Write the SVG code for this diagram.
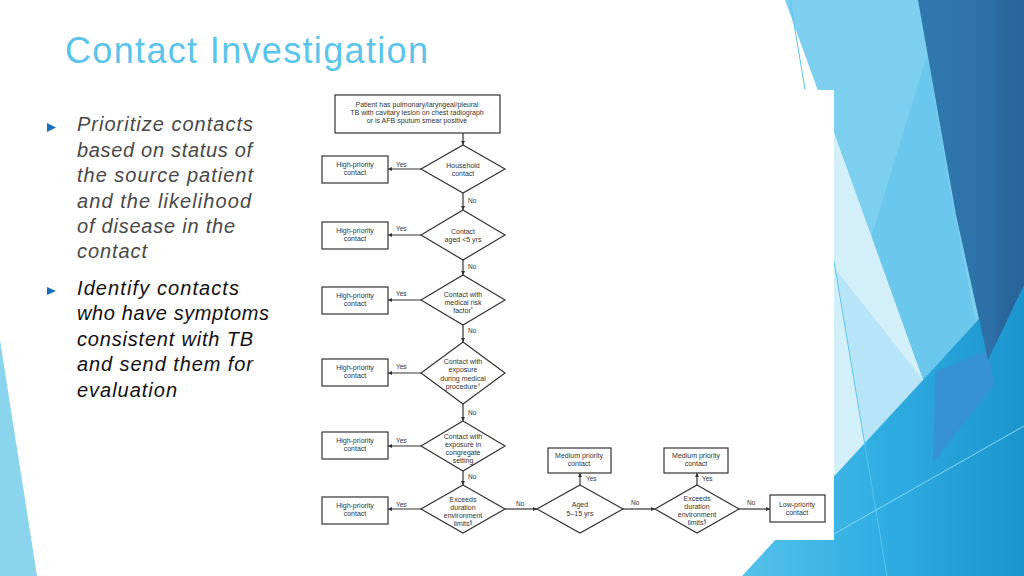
<svg xmlns="http://www.w3.org/2000/svg" width="1024" height="576" viewBox="0 0 1024 576">
<defs>
<linearGradient id="gC" x1="742" y1="0" x2="1024" y2="0" gradientUnits="userSpaceOnUse">
<stop offset="0" stop-color="#55c2ea"/><stop offset="0.5" stop-color="#2fade2"/><stop offset="1" stop-color="#1c95cd"/>
</linearGradient>
<linearGradient id="gD" x1="918" y1="0" x2="1024" y2="0" gradientUnits="userSpaceOnUse">
<stop offset="0" stop-color="#3079ae"/><stop offset="0.7" stop-color="#2d70a8"/><stop offset="0.8" stop-color="#2a659c"/><stop offset="1" stop-color="#28639a"/>
</linearGradient>
<marker id="ah" viewBox="0 0 6 6" refX="6" refY="3" markerWidth="4" markerHeight="4" orient="auto" markerUnits="userSpaceOnUse">
<path d="M0,0 L6,3 L0,6 z" fill="#333"/>
</marker>
<style>
.ft{font-family:"Liberation Sans",Arial,sans-serif;font-size:7px;fill:#333;text-anchor:middle}
.lb{font-family:"Liberation Sans",Arial,sans-serif;font-size:6.5px;fill:#333}
.bx{fill:#fff;stroke:#333;stroke-width:1.2}
.dm{fill:#fff;stroke:#333;stroke-width:1.2}
.cn{stroke:#333;stroke-width:1.2;fill:none;marker-end:url(#ah)}
.bl{font-family:"Liberation Sans",Arial,sans-serif;font-style:italic;font-size:20px}
</style>
</defs>
<rect width="1024" height="576" fill="#fff"/>
<!-- background decoration -->
<g id="decor">
<polygon points="0,340 37,576 0,576" fill="#8ad4ee"/>
<polygon points="785,0 1024,0 1024,300 923,380" fill="#7ccfee"/>
<polygon points="927,55 952,200 980,345 923,380 871,238" fill="#6bc8ec"/>
<polygon points="826,110 923,380 834,477 800,477 800,200" fill="#d3eff9"/>
<polygon points="836,270 923,380 865,443" fill="#b7e4f6"/>
<polygon points="742,576 923,380 1024,270 1024,576" fill="url(#gC)"/>
<polygon points="935,372 988,350 994,385 933,463" fill="#3792d4"/>
<polygon points="918,0 1024,0 1024,285 988,360 956,215" fill="url(#gD)"/>
<line x1="790" y1="0" x2="887" y2="576" stroke="#5bc4ea" stroke-width="1"/>
<line x1="834" y1="534" x2="1024" y2="426" stroke="#8ad6f0" stroke-width="1"/>
</g>
<!-- title and bullets -->
<text x="65" y="63" font-family="Liberation Sans,Arial,sans-serif" font-size="36" fill="#5bc4ea" textLength="363">Contact Investigation</text>
<polygon points="47,123 56,127.5 47,132" fill="#1a6fbd"/>
<polygon points="47,287 56,291 47,295" fill="#1a6fbd"/>
<g class="bl" fill="#484848">
<text x="77" y="131" textLength="176">Prioritize contacts</text>
<text x="77" y="157" textLength="175">based on status of</text>
<text x="77" y="182" textLength="176">the source patient</text>
<text x="77" y="208" textLength="174">and the likelihood</text>
<text x="77" y="233" textLength="158">of disease in the</text>
<text x="77" y="258" textLength="70">contact</text>
</g>
<g class="bl" fill="#111">
<text x="77" y="295" textLength="162">Identify contacts</text>
<text x="77" y="320" textLength="192">who have symptoms</text>
<text x="77" y="346" textLength="176">consistent with TB</text>
<text x="77" y="371" textLength="176">and send them for</text>
<text x="77" y="397" textLength="100">evaluation</text>
</g>
<!-- flowchart image background -->
<rect x="315" y="90" width="519" height="450" fill="#fff"/>
<g id="connectors">
<line class="cn" x1="463" y1="133" x2="463" y2="145"/>
<line class="cn" x1="463" y1="193" x2="463" y2="210"/>
<line class="cn" x1="463" y1="260" x2="463" y2="275"/>
<line class="cn" x1="463" y1="325" x2="463" y2="342"/>
<line class="cn" x1="463" y1="404" x2="463" y2="421"/>
<line class="cn" x1="463" y1="471" x2="463" y2="485"/>
<line class="cn" x1="421" y1="169" x2="388" y2="169"/>
<line class="cn" x1="421" y1="235" x2="388" y2="235"/>
<line class="cn" x1="421" y1="300" x2="388" y2="300"/>
<line class="cn" x1="421" y1="373" x2="388" y2="373"/>
<line class="cn" x1="421" y1="446" x2="388" y2="446"/>
<line class="cn" x1="421" y1="509" x2="388" y2="509"/>
<line class="cn" x1="505" y1="509" x2="537" y2="509"/>
<line class="cn" x1="580" y1="485" x2="580" y2="473"/>
<line class="cn" x1="623" y1="509" x2="655" y2="509"/>
<line class="cn" x1="697" y1="485" x2="697" y2="473"/>
<line class="cn" x1="739" y1="509" x2="770" y2="509"/>
<text class="lb" x="396" y="167">Yes</text>
<text class="lb" x="396" y="231">Yes</text>
<text class="lb" x="396" y="296">Yes</text>
<text class="lb" x="396" y="369">Yes</text>
<text class="lb" x="396" y="443">Yes</text>
<text class="lb" x="396" y="507">Yes</text>
<text class="lb" x="468" y="203">No</text>
<text class="lb" x="468" y="269">No</text>
<text class="lb" x="468" y="333">No</text>
<text class="lb" x="468" y="415">No</text>
<text class="lb" x="468" y="479">No</text>
<text class="lb" x="516" y="506">No</text>
<text class="lb" x="631" y="505">No</text>
<text class="lb" x="747" y="505">No</text>
<text class="lb" x="586" y="481">Yes</text>
<text class="lb" x="702" y="481">Yes</text>
</g>
<g id="start">
<rect class="bx" x="335" y="95" width="165" height="38"/>
<text class="ft" x="417" y="107">Patient has pulmonary/laryngeal/pleural</text>
<text class="ft" x="417" y="115">TB with cavitary lesion on chest radiograph</text>
<text class="ft" x="417" y="123">or is AFB sputum smear positive</text>
</g>
<g id="d1"><polygon class="dm" points="463,145 505,169 463,193 421,169"/>
<text class="ft" x="463" y="168">Household</text><text class="ft" x="463" y="176">contact</text></g>
<g id="h1"><rect class="bx" x="322" y="156" width="66" height="27"/>
<text class="ft" x="355" y="167">High-priority</text><text class="ft" x="355" y="175">contact</text></g>
<g id="d2"><polygon class="dm" points="463,210 505,235 463,260 421,235"/>
<text class="ft" x="463" y="234">Contact</text><text class="ft" x="463" y="242">aged &lt;5 yrs</text></g>
<g id="h2"><rect class="bx" x="322" y="222" width="66" height="27"/>
<text class="ft" x="355" y="233">High-priority</text><text class="ft" x="355" y="241">contact</text></g>
<g id="d3"><polygon class="dm" points="463,275 505,300 463,325 421,300"/>
<text class="ft" x="463" y="297">Contact with</text><text class="ft" x="463" y="305">medical risk</text><text class="ft" x="463" y="313">factor<tspan font-size="5" dy="-2.5">*</tspan></text></g>
<g id="h3"><rect class="bx" x="322" y="287" width="66" height="27"/>
<text class="ft" x="355" y="298">High-priority</text><text class="ft" x="355" y="306">contact</text></g>
<g id="d4"><polygon class="dm" points="463,342 505,373 463,404 421,373"/>
<text class="ft" x="463" y="364">Contact with</text><text class="ft" x="463" y="372">exposure</text><text class="ft" x="463" y="381">during medical</text><text class="ft" x="463" y="389">procedure<tspan font-size="5" dy="-2.5">†</tspan></text></g>
<g id="h4"><rect class="bx" x="322" y="359" width="66" height="27"/>
<text class="ft" x="355" y="370">High-priority</text><text class="ft" x="355" y="378">contact</text></g>
<g id="d5"><polygon class="dm" points="463,421 505,446 463,471 421,446"/>
<text class="ft" x="463" y="439">Contact with</text><text class="ft" x="463" y="447">exposure in</text><text class="ft" x="463" y="455">congregate</text><text class="ft" x="463" y="463">setting</text></g>
<g id="h5"><rect class="bx" x="322" y="432" width="66" height="27"/>
<text class="ft" x="355" y="443">High-priority</text><text class="ft" x="355" y="451">contact</text></g>
<g id="d6"><polygon class="dm" points="463,485 505,509 463,533 421,509"/>
<text class="ft" x="463" y="502">Exceeds</text><text class="ft" x="463" y="510">duration</text><text class="ft" x="463" y="518">environment</text><text class="ft" x="463" y="526">limits<tspan font-size="5" dy="-2.5">§</tspan></text></g>
<g id="h6"><rect class="bx" x="322" y="497" width="66" height="27"/>
<text class="ft" x="355" y="508">High-priority</text><text class="ft" x="355" y="516">contact</text></g>
<g id="d7"><polygon class="dm" points="580,485 623,509 580,533 537,509"/>
<text class="ft" x="580" y="507">Aged</text><text class="ft" x="580" y="516">5–15 yrs</text></g>
<g id="m1"><rect class="bx" x="548" y="448" width="63" height="25"/>
<text class="ft" x="579" y="458">Medium priority</text><text class="ft" x="579" y="466">contact</text></g>
<g id="d8"><polygon class="dm" points="697,485 739,509 697,533 655,509"/>
<text class="ft" x="697" y="501">Exceeds</text><text class="ft" x="697" y="509">duration</text><text class="ft" x="697" y="517">environment</text><text class="ft" x="697" y="525">limits<tspan font-size="5" dy="-2.5">§</tspan></text></g>
<g id="m2"><rect class="bx" x="664" y="448" width="64" height="25"/>
<text class="ft" x="696" y="458">Medium priority</text><text class="ft" x="696" y="466">contact</text></g>
<g id="low"><rect class="bx" x="770" y="495" width="55" height="27"/>
<text class="ft" x="797" y="507">Low-priority</text><text class="ft" x="797" y="515">contact</text></g>
</svg>
